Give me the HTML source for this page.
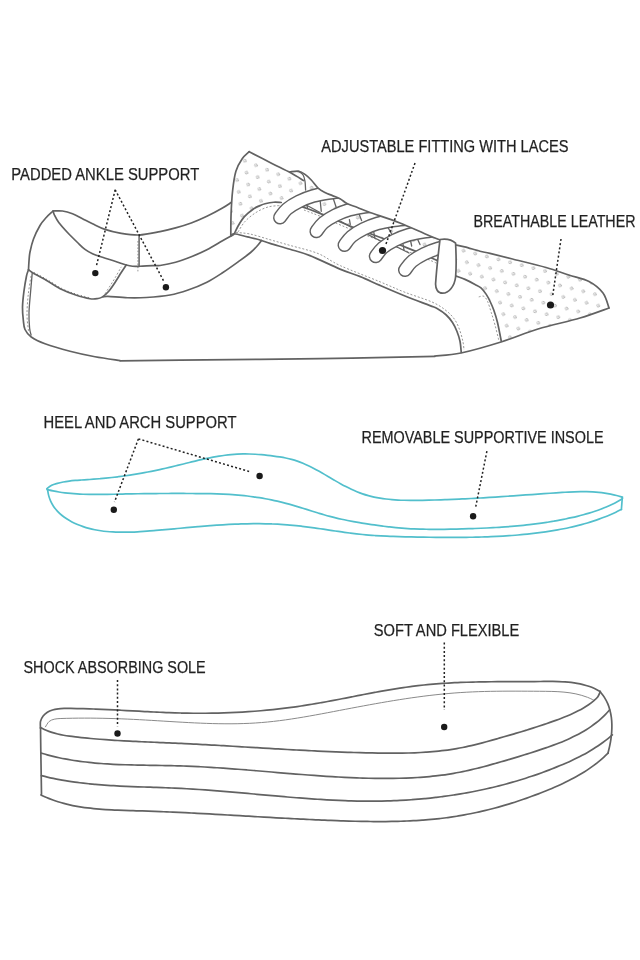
<!DOCTYPE html>
<html><head><meta charset="utf-8"><style>
html,body{margin:0;padding:0;background:#fff;}
body{width:640px;height:960px;overflow:hidden;}
svg{display:block;}
text{font-family:"Liberation Sans",sans-serif;}
</style></head><body>
<svg width="640" height="960" viewBox="0 0 640 960" stroke-linecap="round" stroke-linejoin="round">
<defs><pattern id="pq" patternUnits="userSpaceOnUse" width="12" height="20.784" patternTransform="translate(2 1) rotate(22)"><circle cx="3.0" cy="5.196" r="1.35" fill="none" stroke="#a8a8a8" stroke-width="0.75"/><circle cx="9.0" cy="15.588" r="1.35" fill="none" stroke="#a8a8a8" stroke-width="0.75"/></pattern>
<pattern id="pt" patternUnits="userSpaceOnUse" width="12" height="20.784" patternTransform="translate(3 2) rotate(14)"><circle cx="3.0" cy="5.196" r="1.35" fill="none" stroke="#a8a8a8" stroke-width="0.75"/><circle cx="9.0" cy="15.588" r="1.35" fill="none" stroke="#a8a8a8" stroke-width="0.75"/></pattern>
<clipPath id="cq"><polygon points="249.2,151.7 271.9,163.4 290.6,172.8 298.8,171.2 305.0,174.4 311.2,180.0 318.1,188.1 325.0,192.5 332.5,195.6 340.0,198.8 347.5,203.8 357.5,207.5 370.0,212.5 400.0,223.0 430.0,236.0 451.0,243.0 452.0,268.0 440.0,262.0 400.0,245.0 350.0,226.0 322.5,214.4 302.5,206.9 281.2,202.5 273.8,202.2 265.0,203.8 253.1,210.3 240.6,222.8 233.6,235.3 230.5,233.8 231.0,202.5 232.0,186.9 235.9,171.2 242.2,158.8"/></clipPath>
<clipPath id="ct"><polygon points="451.0,243.0 454.0,245.0 496.0,256.0 558.0,269.0 589.0,281.5 603.0,293.0 609.0,308.0 580.0,318.0 538.0,329.0 501.2,341.0 497.5,322.5 493.8,310.0 490.0,301.2 486.2,294.4 481.2,288.1 475.0,284.4 465.0,279.4 455.0,275.6 452.0,270.0"/></clipPath>
<clipPath id="cl"><polygon points="250.0,320.0 250.0,165.0 290.0,165.0 290.0,171.9 298.8,171.2 305.0,174.4 311.2,180.0 318.1,188.1 325.0,192.5 332.5,195.6 340.0,198.8 347.5,203.8 357.5,207.5 370.0,212.5 400.0,223.0 430.0,236.0 454.0,245.0 452.0,244.0 452.0,320.0"/></clipPath></defs>
<rect x="225" y="145" width="240" height="130" fill="url(#pq)" clip-path="url(#cq)"/>
<rect x="445" y="240" width="170" height="110" fill="url(#pt)" clip-path="url(#ct)"/>
<path d="M31.00 276.00 C30.53 279.17 28.87 288.50 28.20 295.00 C27.53 301.50 26.95 309.00 27.00 315.00 C27.05 321.00 28.25 328.33 28.50 331.00" fill="none" stroke="#8c8c8c" stroke-width="0.9" stroke-dasharray="2 1.8" stroke-linecap="butt"/>
<path d="M34.00 272.40 C36.07 273.53 41.73 276.52 46.40 279.20 C51.07 281.88 57.23 286.08 62.00 288.50 C66.77 290.92 70.50 292.18 75.00 293.70 C79.50 295.22 86.67 296.95 89.00 297.60" fill="none" stroke="#626262" stroke-width="1.0" stroke-dasharray="0.9 2.6" stroke-linecap="butt"/>
<path d="M105.00 293.75 C105.83 292.46 108.33 288.62 110.00 286.00 C111.67 283.38 113.12 281.18 115.00 278.00 C116.88 274.82 120.21 268.75 121.25 266.90" fill="none" stroke="#8c8c8c" stroke-width="0.9" stroke-dasharray="2 1.8" stroke-linecap="butt"/>
<path d="M137.90 241.00 L137.90 272.00" fill="none" stroke="#8c8c8c" stroke-width="0.9" stroke-dasharray="1.6 1.6" stroke-linecap="butt"/>
<path d="M238.00 232.00 C239.17 230.25 242.00 224.75 245.00 221.50 C248.00 218.25 252.17 214.92 256.00 212.50 C259.83 210.08 264.00 208.17 268.00 207.00 C272.00 205.83 278.00 205.75 280.00 205.50" fill="none" stroke="#8c8c8c" stroke-width="0.9" stroke-dasharray="2 1.8" stroke-linecap="butt"/>
<path d="M236.00 232.50 C238.33 232.75 244.33 232.80 250.00 234.00 C255.67 235.20 263.33 237.80 270.00 239.70 C276.67 241.60 282.00 243.10 290.00 245.40 C298.00 247.70 309.67 250.15 318.00 253.50 C326.33 256.85 329.67 260.78 340.00 265.50 C350.33 270.22 369.17 277.33 380.00 281.80 C390.83 286.27 396.33 288.93 405.00 292.30 C413.67 295.67 425.17 298.97 432.00 302.00 C438.83 305.03 442.17 307.50 446.00 310.50 C449.83 313.50 452.67 316.58 455.00 320.00 C457.33 323.42 458.67 327.33 460.00 331.00 C461.33 334.67 462.33 338.83 463.00 342.00 C463.67 345.17 463.83 348.67 464.00 350.00" fill="none" stroke="#8c8c8c" stroke-width="0.9" stroke-dasharray="2 1.8" stroke-linecap="butt"/>
<path d="M304.00 210.00 C307.00 211.17 314.33 213.83 322.00 217.00 C329.67 220.17 337.00 223.75 350.00 229.00 C363.00 234.25 385.00 242.50 400.00 248.50 C415.00 254.50 431.33 260.08 440.00 265.00 C448.67 269.92 450.00 275.83 452.00 278.00" fill="none" stroke="#8c8c8c" stroke-width="0.9" stroke-dasharray="2 1.8" stroke-linecap="butt"/>
<path d="M478.75 296.90 C479.58 296.79 482.29 295.52 483.75 296.25 C485.21 296.98 486.25 298.54 487.50 301.25 C488.75 303.96 490.00 308.54 491.25 312.50 C492.50 316.46 493.75 320.42 495.00 325.00 C496.25 329.58 498.12 337.50 498.75 340.00" fill="none" stroke="#8c8c8c" stroke-width="0.9" stroke-dasharray="2 1.8" stroke-linecap="butt"/>
<path d="M28.50 269.80 C28.17 270.83 27.27 272.35 26.50 276.00 C25.73 279.65 24.57 286.48 23.90 291.70 C23.23 296.92 22.60 302.58 22.50 307.30 C22.40 312.02 22.88 316.30 23.30 320.00 C23.72 323.70 23.68 326.67 25.00 329.50 C26.32 332.33 27.92 334.62 31.25 337.00 C34.58 339.38 38.54 341.38 45.00 343.75 C51.46 346.12 61.67 349.08 70.00 351.25 C78.33 353.42 86.67 355.21 95.00 356.75 C103.33 358.29 115.83 359.88 120.00 360.50" fill="none" stroke="#626262" stroke-width="1.7" />
<path d="M120.00 360.80 C130.00 360.70 146.67 360.57 180.00 360.20 C213.33 359.83 277.50 359.23 320.00 358.60 C362.50 357.97 415.83 356.77 435.00 356.40" fill="none" stroke="#626262" stroke-width="1.7" />
<path d="M435.00 356.00 C439.33 355.50 450.00 355.33 461.00 353.00 C472.00 350.67 488.17 346.00 501.00 342.00 C513.83 338.00 524.83 333.00 538.00 329.00 C551.17 325.00 568.17 321.50 580.00 318.00 C591.83 314.50 604.17 309.67 609.00 308.00" fill="none" stroke="#626262" stroke-width="1.7" />
<path d="M609.00 308.00 C608.00 305.50 606.33 297.42 603.00 293.00 C599.67 288.58 594.71 284.50 589.00 281.50 C583.29 278.50 575.92 277.33 568.75 275.00 C561.58 272.67 555.38 270.17 546.00 267.50 C536.62 264.83 521.83 261.35 512.50 259.00 C503.17 256.65 495.42 254.69 490.00 253.40 C484.58 252.11 484.22 252.33 480.00 251.25 C475.78 250.17 468.87 247.97 464.70 246.90 C460.53 245.83 456.62 245.15 455.00 244.80" fill="none" stroke="#626262" stroke-width="1.7" />
<path d="M32.20 273.40 C31.93 276.45 31.13 285.18 30.60 291.70 C30.07 298.22 29.17 306.45 29.00 312.50 C28.83 318.55 29.25 324.25 29.60 328.00 C29.95 331.75 30.85 333.83 31.10 335.00" fill="none" stroke="#626262" stroke-width="1.3" />
<path d="M53.10 211.00 C51.96 212.08 48.43 215.08 46.25 217.50 C44.07 219.92 42.12 221.92 40.00 225.50 C37.88 229.08 35.17 234.58 33.50 239.00 C31.83 243.42 30.75 248.33 30.00 252.00 C29.25 255.67 29.25 258.03 29.00 261.00 C28.75 263.97 28.58 268.33 28.50 269.80" fill="none" stroke="#626262" stroke-width="1.7" />
<path d="M53.10 211.00 C54.67 211.00 59.27 210.54 62.50 211.00 C65.73 211.46 69.17 212.46 72.50 213.75 C75.83 215.04 79.17 217.08 82.50 218.75 C85.83 220.42 88.75 221.97 92.50 223.75 C96.25 225.53 100.42 227.84 105.00 229.40 C109.58 230.96 114.33 232.17 120.00 233.10 C125.67 234.03 132.33 235.25 139.00 235.00 C145.67 234.75 153.90 232.78 160.00 231.60 C166.10 230.42 170.39 229.33 175.60 227.90 C180.81 226.47 186.03 224.93 191.25 223.00 C196.47 221.07 201.69 218.80 206.90 216.30 C212.11 213.80 218.47 210.30 222.50 208.00 C226.53 205.70 229.67 203.42 231.10 202.50" fill="none" stroke="#626262" stroke-width="1.7" />
<path d="M53.10 211.00 C53.32 211.67 53.46 213.08 54.40 215.00 C55.34 216.92 56.57 219.58 58.75 222.50 C60.93 225.42 64.38 229.17 67.50 232.50 C70.62 235.83 74.58 239.68 77.50 242.50 C80.42 245.32 82.50 247.53 85.00 249.40 C87.50 251.28 89.58 252.43 92.50 253.75 C95.42 255.07 98.75 256.05 102.50 257.30 C106.25 258.55 111.04 259.97 115.00 261.25 C118.96 262.53 123.33 264.17 126.25 265.00 C129.17 265.83 130.21 266.04 132.50 266.25 C134.79 266.46 136.67 266.36 140.00 266.25 C143.33 266.14 149.17 265.73 152.50 265.60 C155.83 265.48 156.15 266.05 160.00 265.50 C163.85 264.95 170.39 263.75 175.60 262.30 C180.81 260.85 186.03 258.88 191.25 256.80 C196.47 254.72 201.69 252.47 206.90 249.80 C212.11 247.13 218.52 243.07 222.50 240.80 C226.48 238.53 229.42 236.97 230.80 236.20" fill="none" stroke="#626262" stroke-width="1.7" />
<path d="M139.10 235.00 L139.10 266.25" fill="none" stroke="#626262" stroke-width="1.5" />
<path d="M28.50 269.80 C29.12 270.23 29.24 270.67 32.20 272.40 C35.16 274.13 41.30 277.33 46.25 280.20 C51.20 283.07 57.11 287.17 61.90 289.60 C66.69 292.03 70.32 293.28 75.00 294.80 C79.68 296.32 86.17 298.13 90.00 298.75 C93.83 299.37 95.92 298.81 98.00 298.50 C100.08 298.19 100.71 298.11 102.50 296.90 C104.29 295.69 106.67 293.65 108.75 291.25 C110.83 288.85 112.92 285.62 115.00 282.50 C117.08 279.38 119.38 275.42 121.25 272.50 C123.12 269.58 125.42 266.25 126.25 265.00" fill="none" stroke="#626262" stroke-width="1.7" />
<path d="M103.00 296.90 C103.83 296.82 103.92 296.26 108.00 296.40 C112.08 296.54 121.12 297.57 127.50 297.75 C133.88 297.93 139.17 297.96 146.25 297.50 C153.33 297.04 163.03 296.25 170.00 295.00 C176.97 293.75 181.95 292.13 188.10 290.00 C194.25 287.87 201.17 285.07 206.90 282.20 C212.63 279.33 217.30 276.18 222.50 272.80 C227.70 269.42 233.42 265.28 238.10 261.90 C242.78 258.52 247.28 255.32 250.60 252.50 C253.92 249.68 256.18 247.00 258.00 245.00 C259.82 243.00 260.92 241.25 261.50 240.50" fill="none" stroke="#626262" stroke-width="1.7" />
<path d="M249.20 151.70 C248.03 152.88 244.42 155.49 242.20 158.75 C239.98 162.01 237.48 166.04 235.90 171.25 C234.32 176.46 233.50 182.97 232.70 190.00 C231.90 197.03 231.42 205.73 231.10 213.40 C230.78 221.07 230.85 232.23 230.80 236.00" fill="none" stroke="#626262" stroke-width="1.7" />
<path d="M249.20 151.70 C252.98 153.65 265.00 159.88 271.90 163.40 C278.80 166.92 285.29 169.93 290.60 172.80 C295.91 175.67 301.56 179.30 303.75 180.60" fill="none" stroke="#626262" stroke-width="1.7" />
<path d="M232.00 235.50 C232.37 235.21 233.18 235.33 234.20 233.75 C235.22 232.17 236.40 228.86 238.10 226.00 C239.80 223.14 241.79 219.47 244.40 216.60 C247.01 213.72 251.15 210.58 253.75 208.75 C256.35 206.92 258.12 206.43 260.00 205.60 C261.88 204.77 262.71 204.31 265.00 203.75 C267.29 203.19 271.04 202.46 273.75 202.25 C276.46 202.04 280.00 202.46 281.25 202.50" fill="none" stroke="#626262" stroke-width="1.7" />
<path d="M230.80 236.00 C231.37 235.62 231.42 233.60 234.20 233.75 C236.98 233.90 243.20 235.86 247.50 236.90 C251.80 237.94 256.25 238.92 260.00 240.00 C263.75 241.08 265.00 241.87 270.00 243.40 C275.00 244.93 283.33 247.17 290.00 249.20 C296.67 251.23 301.67 252.28 310.00 255.60 C318.33 258.92 331.62 265.60 340.00 269.10 C348.38 272.60 353.63 273.88 360.30 276.60 C366.97 279.32 372.55 282.17 380.00 285.40 C387.45 288.63 396.67 292.63 405.00 296.00 C413.33 299.37 424.58 303.48 430.00 305.60 C435.42 307.73 434.79 307.18 437.50 308.75 C440.21 310.32 443.75 312.71 446.25 315.00 C448.75 317.29 450.73 319.79 452.50 322.50 C454.27 325.21 455.65 328.12 456.90 331.25 C458.15 334.38 459.27 337.71 460.00 341.25 C460.73 344.79 461.04 350.62 461.25 352.50" fill="none" stroke="#626262" stroke-width="1.7" />
<path d="M302.50 206.90 C305.83 208.15 314.58 211.22 322.50 214.40 C330.42 217.58 337.08 220.90 350.00 226.00 C362.92 231.10 385.00 239.00 400.00 245.00 C415.00 251.00 431.00 257.05 440.00 262.00 C449.00 266.95 451.67 272.58 454.00 274.70" fill="none" stroke="#626262" stroke-width="1.7" />
<path d="M454.00 274.90 C454.17 275.02 453.17 274.85 455.00 275.60 C456.83 276.35 461.67 277.93 465.00 279.40 C468.33 280.87 472.29 282.95 475.00 284.40 C477.71 285.85 479.38 286.43 481.25 288.10 C483.12 289.77 484.79 292.21 486.25 294.40 C487.71 296.59 488.75 298.65 490.00 301.25 C491.25 303.85 492.50 306.46 493.75 310.00 C495.00 313.54 496.25 317.33 497.50 322.50 C498.75 327.67 500.62 337.92 501.25 341.00" fill="none" stroke="#626262" stroke-width="1.7" />
<path d="M298.75 171.25 C299.48 171.88 302.06 173.33 303.10 175.00 C304.14 176.67 304.58 178.75 305.00 181.25 C305.42 183.75 305.50 188.54 305.60 190.00" fill="none" stroke="#626262" stroke-width="1.3" />
<path d="M306.25 205.00 L320.00 212.50" fill="none" stroke="#626262" stroke-width="1.3" />
<path d="M306.50 203.50 L307.50 208.00" fill="none" stroke="#626262" stroke-width="1.3" />
<path d="M320.00 198.75 L321.25 211.25" fill="none" stroke="#626262" stroke-width="1.3" />
<path d="M332.50 196.25 L336.25 207.50" fill="none" stroke="#626262" stroke-width="1.3" />
<path d="M341.00 221.50 L351.25 227.20" fill="none" stroke="#626262" stroke-width="1.3" />
<path d="M349.40 219.70 L350.30 224.40" fill="none" stroke="#626262" stroke-width="1.3" />
<path d="M356.90 208.40 L361.60 220.60" fill="none" stroke="#626262" stroke-width="1.3" />
<path d="M368.00 234.70 L381.25 241.25" fill="none" stroke="#626262" stroke-width="1.3" />
<path d="M373.75 231.90 L374.70 237.50" fill="none" stroke="#626262" stroke-width="1.3" />
<path d="M383.00 218.75 L391.50 233.75" fill="none" stroke="#626262" stroke-width="1.3" />
<path d="M397.00 247.00 L409.00 253.00" fill="none" stroke="#626262" stroke-width="1.3" />
<path d="M403.00 244.00 L404.00 250.00" fill="none" stroke="#626262" stroke-width="1.3" />
<path d="M409.60 236.25 L411.70 246.00" fill="none" stroke="#626262" stroke-width="1.3" />
<path d="M413.75 231.00 L420.00 244.60" fill="none" stroke="#626262" stroke-width="1.3" />
<path d="M280.00 217.50 C281.17 216.08 283.83 211.67 287.00 209.00 C290.17 206.33 294.67 203.67 299.00 201.50 C303.33 199.33 308.17 197.42 313.00 196.00 C317.83 194.58 323.17 193.75 328.00 193.00 C332.83 192.25 339.67 191.75 342.00 191.50" fill="none" stroke="#626262" stroke-width="14" stroke-linecap="round" clip-path="url(#cl)"/>
<path d="M280.00 217.50 C281.17 216.08 283.83 211.67 287.00 209.00 C290.17 206.33 294.67 203.67 299.00 201.50 C303.33 199.33 308.17 197.42 313.00 196.00 C317.83 194.58 323.17 193.75 328.00 193.00 C332.83 192.25 339.67 191.75 342.00 191.50" fill="none" stroke="#fff" stroke-width="11.2" stroke-linecap="round" clip-path="url(#cl)"/>
<path d="M316.40 231.25 C317.57 229.83 320.23 225.42 323.40 222.75 C326.57 220.08 331.07 217.42 335.40 215.25 C339.73 213.08 344.57 211.17 349.40 209.75 C354.23 208.33 359.57 207.50 364.40 206.75 C369.23 206.00 376.07 205.50 378.40 205.25" fill="none" stroke="#626262" stroke-width="14" stroke-linecap="round" clip-path="url(#cl)"/>
<path d="M316.40 231.25 C317.57 229.83 320.23 225.42 323.40 222.75 C326.57 220.08 331.07 217.42 335.40 215.25 C339.73 213.08 344.57 211.17 349.40 209.75 C354.23 208.33 359.57 207.50 364.40 206.75 C369.23 206.00 376.07 205.50 378.40 205.25" fill="none" stroke="#fff" stroke-width="11.2" stroke-linecap="round" clip-path="url(#cl)"/>
<path d="M344.50 245.00 C345.67 243.58 348.33 239.17 351.50 236.50 C354.67 233.83 359.17 231.17 363.50 229.00 C367.83 226.83 372.67 224.92 377.50 223.50 C382.33 222.08 387.67 221.25 392.50 220.50 C397.33 219.75 404.17 219.25 406.50 219.00" fill="none" stroke="#626262" stroke-width="14" stroke-linecap="round" clip-path="url(#cl)"/>
<path d="M344.50 245.00 C345.67 243.58 348.33 239.17 351.50 236.50 C354.67 233.83 359.17 231.17 363.50 229.00 C367.83 226.83 372.67 224.92 377.50 223.50 C382.33 222.08 387.67 221.25 392.50 220.50 C397.33 219.75 404.17 219.25 406.50 219.00" fill="none" stroke="#fff" stroke-width="11.2" stroke-linecap="round" clip-path="url(#cl)"/>
<path d="M375.75 256.25 C376.92 254.83 379.58 250.42 382.75 247.75 C385.92 245.08 390.42 242.42 394.75 240.25 C399.08 238.08 403.92 236.17 408.75 234.75 C413.58 233.33 418.92 232.50 423.75 231.75 C428.58 231.00 435.42 230.50 437.75 230.25" fill="none" stroke="#626262" stroke-width="14" stroke-linecap="round" clip-path="url(#cl)"/>
<path d="M375.75 256.25 C376.92 254.83 379.58 250.42 382.75 247.75 C385.92 245.08 390.42 242.42 394.75 240.25 C399.08 238.08 403.92 236.17 408.75 234.75 C413.58 233.33 418.92 232.50 423.75 231.75 C428.58 231.00 435.42 230.50 437.75 230.25" fill="none" stroke="#fff" stroke-width="11.2" stroke-linecap="round" clip-path="url(#cl)"/>
<path d="M405.00 270.00 C406.17 268.58 408.83 264.17 412.00 261.50 C415.17 258.83 419.67 256.17 424.00 254.00 C428.33 251.83 433.17 249.92 438.00 248.50 C442.83 247.08 448.17 246.25 453.00 245.50 C457.83 244.75 464.67 244.25 467.00 244.00" fill="none" stroke="#626262" stroke-width="14" stroke-linecap="round" clip-path="url(#cl)"/>
<path d="M405.00 270.00 C406.17 268.58 408.83 264.17 412.00 261.50 C415.17 258.83 419.67 256.17 424.00 254.00 C428.33 251.83 433.17 249.92 438.00 248.50 C442.83 247.08 448.17 246.25 453.00 245.50 C457.83 244.75 464.67 244.25 467.00 244.00" fill="none" stroke="#fff" stroke-width="11.2" stroke-linecap="round" clip-path="url(#cl)"/>
<path d="M290.00 171.90 C291.46 171.79 296.25 170.83 298.75 171.25 C301.25 171.67 302.92 172.94 305.00 174.40 C307.08 175.86 309.07 177.72 311.25 180.00 C313.43 182.28 315.81 186.02 318.10 188.10 C320.39 190.18 322.60 191.25 325.00 192.50 C327.40 193.75 330.00 194.56 332.50 195.60 C335.00 196.64 337.50 197.39 340.00 198.75 C342.50 200.11 344.58 202.29 347.50 203.75 C350.42 205.21 353.75 206.04 357.50 207.50 C361.25 208.96 362.92 209.92 370.00 212.50 C377.08 215.08 390.00 219.08 400.00 223.00 C410.00 226.92 421.00 232.33 430.00 236.00 C439.00 239.67 450.00 243.50 454.00 245.00" fill="none" stroke="#626262" stroke-width="1.7" />
<path d="M440,239.5 C446,238.6 452,239.8 455.6,243.2 C456.2,255 456.4,268 455.6,277 C454.6,286 449,293.2 442.5,293.2 C438,293.2 435.4,289 435.6,283.5 C436.6,268 438.4,253 440,239.5 Z" fill="#fff" stroke="#626262" stroke-width="1.7"/>
<line x1="115.2" y1="189.8" x2="96.5" y2="265.5" stroke="#222" stroke-width="1.5" stroke-dasharray="2 2.2" stroke-linecap="butt"/>
<circle cx="95.3" cy="273.1" r="3.2" fill="#1a1a1a"/>
<line x1="115.2" y1="189.8" x2="163.8" y2="281.2" stroke="#222" stroke-width="1.5" stroke-dasharray="2 2.2" stroke-linecap="butt"/>
<circle cx="165.9" cy="287.2" r="3.2" fill="#1a1a1a"/>
<line x1="415.0" y1="163.0" x2="386.0" y2="244.0" stroke="#222" stroke-width="1.5" stroke-dasharray="2 2.2" stroke-linecap="butt"/>
<circle cx="382.5" cy="250.5" r="3.6" fill="#1a1a1a"/>
<line x1="561.0" y1="239.0" x2="552.5" y2="297.0" stroke="#222" stroke-width="1.5" stroke-dasharray="2 2.2" stroke-linecap="butt"/>
<circle cx="550.5" cy="305.0" r="3.6" fill="#1a1a1a"/>
<path d="M46.91 488.62 C47.71 488.06 49.95 486.15 51.69 485.28 C53.44 484.41 55.45 483.92 57.37 483.37 C59.29 482.83 61.25 482.40 63.22 482.01 C65.19 481.63 67.18 481.34 69.19 481.07 C71.19 480.81 73.22 480.62 75.25 480.44 C77.27 480.26 79.32 480.13 81.36 479.99 C83.40 479.85 85.45 479.75 87.49 479.62 C89.53 479.49 91.58 479.36 93.61 479.21 C95.65 479.06 97.68 478.90 99.71 478.73 C101.74 478.55 103.77 478.36 105.79 478.16 C107.81 477.95 109.83 477.74 111.85 477.51 C113.86 477.28 115.87 477.03 117.88 476.78 C119.89 476.52 121.90 476.25 123.90 475.97 C125.90 475.69 127.90 475.39 129.90 475.08 C131.90 474.78 133.89 474.46 135.89 474.12 C137.88 473.79 139.87 473.45 141.86 473.09 C143.85 472.73 145.83 472.37 147.82 471.99 C149.80 471.61 151.79 471.21 153.77 470.81 C155.75 470.41 157.73 469.99 159.71 469.56 C161.69 469.14 163.66 468.70 165.64 468.25 C167.61 467.80 169.59 467.34 171.56 466.87 C173.54 466.40 175.51 465.92 177.48 465.43 C179.46 464.95 181.43 464.45 183.40 463.97 C185.37 463.48 187.35 462.98 189.32 462.50 C191.29 462.01 193.27 461.53 195.24 461.06 C197.22 460.59 199.20 460.12 201.18 459.68 C203.15 459.23 205.13 458.79 207.12 458.38 C209.10 457.96 211.09 457.57 213.07 457.19 C215.06 456.82 217.05 456.47 219.05 456.15 C221.04 455.83 223.04 455.54 225.04 455.28 C227.04 455.02 229.04 454.79 231.05 454.61 C233.06 454.42 235.08 454.27 237.10 454.16 C239.11 454.06 241.14 453.99 243.16 453.97 C245.19 453.94 247.22 453.96 249.25 454.01 C251.29 454.05 253.32 454.14 255.36 454.26 C257.39 454.37 259.43 454.52 261.46 454.70 C263.50 454.87 265.53 455.08 267.56 455.30 C269.59 455.53 271.62 455.78 273.65 456.05 C275.67 456.32 277.70 456.61 279.71 456.93 C281.72 457.26 283.73 457.60 285.71 458.00 C287.69 458.41 289.66 458.85 291.60 459.38 C293.54 459.90 295.45 460.49 297.34 461.14 C299.23 461.79 301.10 462.52 302.94 463.28 C304.79 464.05 306.62 464.88 308.43 465.74 C310.24 466.60 312.04 467.51 313.83 468.45 C315.62 469.38 317.39 470.36 319.17 471.35 C320.94 472.34 322.71 473.36 324.47 474.39 C326.24 475.41 328.01 476.46 329.78 477.50 C331.55 478.54 333.32 479.59 335.10 480.62 C336.88 481.65 338.66 482.69 340.46 483.69 C342.26 484.69 344.06 485.68 345.87 486.62 C347.69 487.56 349.51 488.49 351.35 489.35 C353.19 490.22 355.04 491.05 356.90 491.81 C358.77 492.57 360.65 493.28 362.55 493.92 C364.45 494.57 366.37 495.14 368.30 495.67 C370.23 496.20 372.17 496.66 374.13 497.08 C376.08 497.50 378.05 497.86 380.03 498.19 C382.01 498.51 384.00 498.79 386.00 499.03 C388.00 499.27 390.01 499.46 392.02 499.63 C394.03 499.80 396.06 499.93 398.08 500.03 C400.11 500.14 402.14 500.21 404.18 500.26 C406.21 500.32 408.25 500.34 410.29 500.36 C412.33 500.37 414.38 500.37 416.42 500.35 C418.46 500.34 420.50 500.31 422.54 500.28 C424.58 500.24 426.62 500.20 428.66 500.16 C430.70 500.11 432.73 500.06 434.76 500.01 C436.80 499.95 438.83 499.89 440.86 499.82 C442.89 499.76 444.92 499.68 446.95 499.61 C448.97 499.53 451.00 499.45 453.03 499.36 C455.05 499.28 457.07 499.19 459.10 499.10 C461.12 499.00 463.14 498.90 465.16 498.80 C467.19 498.70 469.21 498.60 471.23 498.49 C473.25 498.38 475.26 498.27 477.28 498.15 C479.30 498.03 481.32 497.92 483.34 497.80 C485.36 497.67 487.37 497.55 489.39 497.42 C491.41 497.30 493.43 497.17 495.44 497.04 C497.46 496.91 499.48 496.78 501.50 496.64 C503.51 496.51 505.53 496.37 507.55 496.23 C509.57 496.09 511.59 495.96 513.60 495.82 C515.62 495.68 517.64 495.53 519.66 495.39 C521.68 495.25 523.70 495.11 525.72 494.96 C527.75 494.82 529.77 494.68 531.79 494.53 C533.81 494.39 535.84 494.25 537.86 494.10 C539.89 493.96 541.92 493.82 543.94 493.67 C545.97 493.53 548.00 493.39 550.03 493.25 C552.06 493.11 554.09 492.96 556.13 492.83 C558.16 492.69 560.19 492.55 562.23 492.43 C564.26 492.30 566.30 492.18 568.33 492.08 C570.37 491.97 572.40 491.88 574.43 491.82 C576.47 491.75 578.50 491.70 580.53 491.68 C582.55 491.66 584.58 491.66 586.60 491.70 C588.63 491.74 590.65 491.81 592.66 491.92 C594.67 492.03 596.69 492.17 598.69 492.37 C600.70 492.56 602.70 492.80 604.69 493.08 C606.68 493.37 608.67 493.71 610.65 494.10 C612.63 494.50 614.60 494.94 616.57 495.46 C618.53 495.97 621.46 496.90 622.44 497.19" fill="none" stroke="#52bfcc" stroke-width="1.7" />
<path d="M47.09 489.54 C48.08 489.76 51.02 490.48 53.00 490.88 C54.97 491.29 56.96 491.65 58.94 491.97 C60.93 492.29 62.92 492.57 64.92 492.82 C66.92 493.07 68.93 493.28 70.94 493.47 C72.94 493.65 74.96 493.80 76.97 493.93 C78.99 494.06 81.01 494.16 83.03 494.24 C85.06 494.32 87.09 494.37 89.11 494.41 C91.14 494.45 93.18 494.46 95.21 494.47 C97.24 494.47 99.28 494.46 101.31 494.44 C103.35 494.42 105.39 494.39 107.42 494.36 C109.46 494.32 111.50 494.28 113.53 494.23 C115.57 494.19 117.61 494.14 119.64 494.10 C121.68 494.05 123.71 494.01 125.75 493.97 C127.78 493.93 129.81 493.89 131.85 493.86 C133.88 493.82 135.91 493.79 137.94 493.76 C139.97 493.73 142.00 493.70 144.02 493.67 C146.05 493.65 148.08 493.62 150.11 493.60 C152.14 493.58 154.16 493.56 156.19 493.55 C158.22 493.53 160.24 493.52 162.27 493.50 C164.29 493.49 166.32 493.48 168.34 493.48 C170.37 493.47 172.39 493.47 174.42 493.46 C176.44 493.46 178.47 493.46 180.50 493.46 C182.52 493.47 184.55 493.47 186.57 493.48 C188.60 493.49 190.62 493.50 192.65 493.51 C194.68 493.52 196.70 493.54 198.73 493.56 C200.76 493.57 202.78 493.59 204.81 493.62 C206.84 493.64 208.87 493.67 210.90 493.71 C212.92 493.75 214.95 493.80 216.98 493.86 C219.01 493.92 221.04 493.99 223.07 494.08 C225.09 494.17 227.12 494.28 229.15 494.40 C231.17 494.53 233.20 494.67 235.22 494.83 C237.25 494.99 239.27 495.17 241.29 495.37 C243.31 495.56 245.33 495.78 247.35 496.02 C249.36 496.26 251.37 496.51 253.38 496.79 C255.39 497.07 257.40 497.37 259.40 497.69 C261.40 498.01 263.40 498.35 265.40 498.72 C267.39 499.08 269.38 499.47 271.36 499.88 C273.35 500.29 275.33 500.72 277.30 501.18 C279.27 501.64 281.24 502.12 283.20 502.62 C285.16 503.12 287.12 503.65 289.07 504.19 C291.02 504.73 292.97 505.29 294.91 505.86 C296.85 506.43 298.79 507.02 300.73 507.61 C302.67 508.20 304.60 508.81 306.54 509.41 C308.47 510.01 310.40 510.62 312.34 511.22 C314.27 511.82 316.21 512.42 318.14 513.01 C320.08 513.59 322.02 514.18 323.97 514.73 C325.91 515.29 327.86 515.84 329.81 516.36 C331.77 516.88 333.73 517.38 335.70 517.85 C337.66 518.33 339.64 518.78 341.61 519.21 C343.59 519.65 345.57 520.06 347.56 520.46 C349.55 520.85 351.54 521.23 353.53 521.60 C355.53 521.96 357.53 522.31 359.53 522.65 C361.53 522.99 363.54 523.31 365.54 523.63 C367.55 523.95 369.56 524.25 371.57 524.55 C373.58 524.84 375.60 525.13 377.61 525.41 C379.62 525.69 381.64 525.96 383.66 526.22 C385.67 526.47 387.69 526.72 389.71 526.95 C391.73 527.18 393.75 527.39 395.77 527.59 C397.79 527.78 399.81 527.96 401.83 528.12 C403.85 528.28 405.87 528.42 407.89 528.54 C409.92 528.67 411.94 528.78 413.96 528.87 C415.99 528.96 418.01 529.04 420.03 529.11 C422.06 529.17 424.08 529.22 426.11 529.26 C428.13 529.30 430.16 529.32 432.18 529.34 C434.21 529.35 436.23 529.36 438.26 529.35 C440.28 529.35 442.31 529.33 444.34 529.31 C446.36 529.29 448.39 529.25 450.42 529.22 C452.45 529.18 454.47 529.13 456.50 529.08 C458.53 529.03 460.56 528.97 462.59 528.91 C464.62 528.86 466.65 528.79 468.67 528.72 C470.70 528.66 472.73 528.58 474.76 528.51 C476.79 528.43 478.82 528.35 480.85 528.26 C482.88 528.18 484.91 528.08 486.94 527.98 C488.96 527.88 490.99 527.78 493.02 527.67 C495.05 527.55 497.07 527.43 499.10 527.30 C501.13 527.18 503.15 527.04 505.18 526.89 C507.20 526.75 509.22 526.59 511.25 526.43 C513.27 526.26 515.29 526.09 517.31 525.90 C519.33 525.72 521.35 525.52 523.37 525.32 C525.38 525.11 527.40 524.89 529.41 524.66 C531.43 524.43 533.44 524.18 535.45 523.93 C537.46 523.67 539.47 523.40 541.48 523.12 C543.49 522.83 545.49 522.53 547.49 522.22 C549.50 521.91 551.50 521.58 553.50 521.24 C555.49 520.89 557.49 520.54 559.48 520.16 C561.48 519.78 563.47 519.39 565.46 518.98 C567.44 518.57 569.43 518.15 571.41 517.70 C573.40 517.26 575.38 516.80 577.35 516.31 C579.32 515.83 581.30 515.32 583.26 514.79 C585.22 514.26 587.17 513.70 589.11 513.11 C591.06 512.53 592.99 511.91 594.91 511.26 C596.83 510.61 598.74 509.94 600.63 509.22 C602.52 508.50 604.40 507.75 606.26 506.95 C608.12 506.16 609.97 505.33 611.79 504.45 C613.61 503.57 615.41 502.65 617.19 501.68 C618.97 500.71 621.58 499.14 622.46 498.63" fill="none" stroke="#52bfcc" stroke-width="1.7" />
<path d="M47.42 488.73 C47.61 489.80 48.03 493.10 48.56 495.16 C49.10 497.22 49.80 499.21 50.64 501.09 C51.48 502.97 52.48 504.75 53.60 506.43 C54.72 508.10 55.99 509.67 57.34 511.14 C58.70 512.61 60.19 513.98 61.74 515.26 C63.29 516.54 64.95 517.72 66.65 518.82 C68.35 519.93 70.14 520.94 71.95 521.88 C73.76 522.82 75.63 523.67 77.50 524.46 C79.37 525.24 81.27 525.95 83.19 526.60 C85.10 527.25 87.03 527.82 88.97 528.34 C90.91 528.86 92.87 529.32 94.84 529.72 C96.81 530.12 98.80 530.46 100.79 530.75 C102.79 531.05 104.79 531.29 106.81 531.49 C108.82 531.69 110.85 531.84 112.88 531.95 C114.91 532.07 116.95 532.14 118.99 532.18 C121.04 532.22 123.09 532.23 125.14 532.21 C127.19 532.19 129.25 532.13 131.31 532.06 C133.37 531.99 135.43 531.89 137.49 531.78 C139.55 531.67 141.61 531.53 143.67 531.39 C145.72 531.25 147.78 531.09 149.83 530.93 C151.89 530.77 153.93 530.60 155.98 530.43 C158.02 530.26 160.06 530.08 162.10 529.90 C164.14 529.73 166.17 529.54 168.20 529.36 C170.23 529.18 172.26 528.99 174.29 528.80 C176.31 528.62 178.34 528.43 180.36 528.25 C182.38 528.06 184.40 527.87 186.42 527.69 C188.44 527.50 190.46 527.32 192.48 527.14 C194.49 526.96 196.51 526.78 198.53 526.61 C200.54 526.44 202.56 526.27 204.58 526.10 C206.59 525.94 208.61 525.78 210.63 525.63 C212.65 525.48 214.67 525.33 216.69 525.19 C218.71 525.05 220.73 524.92 222.76 524.80 C224.78 524.67 226.81 524.56 228.84 524.45 C230.87 524.35 232.90 524.25 234.93 524.17 C236.97 524.08 239.00 524.01 241.04 523.95 C243.07 523.88 245.11 523.83 247.15 523.79 C249.18 523.75 251.22 523.73 253.26 523.71 C255.30 523.70 257.34 523.70 259.38 523.71 C261.42 523.72 263.46 523.75 265.50 523.79 C267.54 523.83 269.58 523.89 271.61 523.96 C273.65 524.03 275.69 524.12 277.72 524.22 C279.76 524.33 281.79 524.45 283.83 524.59 C285.86 524.73 287.89 524.88 289.92 525.06 C291.95 525.23 293.98 525.42 296.00 525.63 C298.03 525.84 300.05 526.07 302.07 526.31 C304.10 526.55 306.12 526.81 308.13 527.07 C310.15 527.33 312.17 527.61 314.19 527.89 C316.20 528.18 318.22 528.47 320.23 528.76 C322.25 529.05 324.26 529.36 326.28 529.65 C328.29 529.95 330.31 530.26 332.32 530.55 C334.33 530.85 336.35 531.15 338.36 531.44 C340.38 531.73 342.39 532.02 344.41 532.29 C346.42 532.57 348.44 532.84 350.46 533.10 C352.48 533.36 354.50 533.60 356.52 533.83 C358.54 534.06 360.56 534.28 362.58 534.48 C364.61 534.68 366.63 534.86 368.66 535.03 C370.69 535.20 372.71 535.36 374.74 535.50 C376.77 535.64 378.80 535.77 380.84 535.89 C382.87 536.01 384.90 536.11 386.93 536.21 C388.97 536.30 391.00 536.39 393.04 536.47 C395.07 536.55 397.11 536.61 399.15 536.68 C401.18 536.74 403.22 536.79 405.26 536.84 C407.30 536.89 409.34 536.93 411.37 536.97 C413.41 537.01 415.45 537.05 417.49 537.08 C419.53 537.11 421.57 537.14 423.61 537.17 C425.65 537.20 427.69 537.23 429.73 537.25 C431.76 537.28 433.80 537.30 435.84 537.32 C437.88 537.34 439.92 537.36 441.96 537.37 C444.00 537.38 446.03 537.39 448.07 537.40 C450.11 537.40 452.15 537.41 454.19 537.40 C456.22 537.40 458.26 537.39 460.30 537.38 C462.33 537.36 464.37 537.35 466.41 537.32 C468.44 537.29 470.48 537.26 472.51 537.23 C474.55 537.19 476.58 537.14 478.62 537.09 C480.65 537.04 482.69 536.98 484.72 536.91 C486.75 536.85 488.79 536.77 490.82 536.69 C492.85 536.60 494.88 536.51 496.92 536.41 C498.95 536.31 500.98 536.20 503.01 536.08 C505.04 535.95 507.07 535.82 509.10 535.68 C511.13 535.54 513.15 535.39 515.18 535.23 C517.21 535.06 519.23 534.89 521.26 534.70 C523.29 534.52 525.31 534.32 527.34 534.11 C529.36 533.90 531.38 533.68 533.41 533.44 C535.43 533.20 537.45 532.95 539.47 532.69 C541.49 532.43 543.51 532.15 545.53 531.86 C547.55 531.57 549.56 531.26 551.58 530.93 C553.59 530.61 555.60 530.27 557.61 529.91 C559.61 529.55 561.61 529.17 563.61 528.77 C565.61 528.37 567.60 527.95 569.59 527.51 C571.58 527.07 573.56 526.61 575.54 526.13 C577.52 525.65 579.49 525.14 581.45 524.61 C583.42 524.08 585.37 523.53 587.32 522.95 C589.27 522.37 591.21 521.76 593.15 521.13 C595.08 520.49 597.00 519.84 598.92 519.15 C600.83 518.46 602.74 517.74 604.63 517.00 C606.53 516.25 608.42 515.47 610.29 514.67 C612.16 513.86 614.03 513.02 615.88 512.15 C617.73 511.27 620.47 509.88 621.39 509.43" fill="none" stroke="#52bfcc" stroke-width="1.7" />
<path d="M622.30 497.50 L621.40 509.50" fill="none" stroke="#52bfcc" stroke-width="1.7" />
<line x1="138.4" y1="438.9" x2="114.5" y2="502.0" stroke="#222" stroke-width="1.5" stroke-dasharray="2 2.2" stroke-linecap="butt"/>
<circle cx="113.8" cy="509.8" r="3.2" fill="#1a1a1a"/>
<line x1="138.4" y1="438.9" x2="250.6" y2="471.9" stroke="#222" stroke-width="1.5" stroke-dasharray="2 2.2" stroke-linecap="butt"/>
<circle cx="259.6" cy="476.0" r="3.2" fill="#1a1a1a"/>
<line x1="486.9" y1="451.2" x2="475.5" y2="508.0" stroke="#222" stroke-width="1.5" stroke-dasharray="2 2.2" stroke-linecap="butt"/>
<circle cx="473.1" cy="516.2" r="3.2" fill="#1a1a1a"/>
<path d="M40.45 728.24 C40.46 727.08 40.09 723.35 40.54 721.30 C40.98 719.26 42.00 717.49 43.14 715.98 C44.28 714.47 45.81 713.24 47.38 712.24 C48.94 711.24 50.71 710.54 52.52 709.98 C54.34 709.41 56.30 709.10 58.29 708.84 C60.27 708.59 62.36 708.53 64.43 708.46 C66.51 708.40 68.64 708.44 70.73 708.46 C72.83 708.47 74.93 708.50 77.03 708.54 C79.12 708.58 81.21 708.62 83.29 708.67 C85.37 708.73 87.45 708.79 89.52 708.85 C91.60 708.92 93.66 708.99 95.73 709.07 C97.80 709.15 99.86 709.23 101.91 709.32 C103.97 709.41 106.03 709.50 108.08 709.60 C110.13 709.70 112.18 709.80 114.22 709.90 C116.27 710.00 118.31 710.11 120.35 710.22 C122.39 710.32 124.43 710.43 126.46 710.54 C128.50 710.65 130.53 710.77 132.56 710.88 C134.59 710.99 136.62 711.10 138.65 711.21 C140.68 711.32 142.71 711.43 144.74 711.53 C146.76 711.64 148.79 711.74 150.81 711.84 C152.84 711.95 154.86 712.04 156.89 712.14 C158.91 712.23 160.94 712.32 162.96 712.41 C164.99 712.50 167.01 712.58 169.04 712.65 C171.06 712.73 173.09 712.80 175.12 712.86 C177.14 712.92 179.17 712.98 181.20 713.03 C183.23 713.08 185.26 713.12 187.30 713.15 C189.33 713.18 191.36 713.21 193.40 713.23 C195.43 713.24 197.46 713.25 199.50 713.25 C201.54 713.26 203.57 713.25 205.61 713.24 C207.65 713.22 209.69 713.20 211.73 713.17 C213.76 713.14 215.80 713.10 217.84 713.05 C219.88 713.00 221.92 712.95 223.96 712.88 C226.01 712.82 228.05 712.74 230.09 712.66 C232.13 712.58 234.17 712.49 236.21 712.39 C238.25 712.29 240.29 712.18 242.33 712.06 C244.37 711.95 246.41 711.82 248.45 711.68 C250.49 711.55 252.53 711.40 254.57 711.25 C256.61 711.09 258.65 710.93 260.69 710.76 C262.72 710.58 264.76 710.40 266.80 710.21 C268.83 710.01 270.87 709.81 272.91 709.60 C274.94 709.39 276.97 709.17 279.01 708.93 C281.04 708.70 283.07 708.46 285.10 708.21 C287.13 707.96 289.16 707.69 291.19 707.42 C293.22 707.15 295.24 706.87 297.27 706.57 C299.29 706.28 301.32 705.98 303.34 705.66 C305.36 705.35 307.38 705.02 309.40 704.69 C311.42 704.36 313.43 704.02 315.45 703.67 C317.47 703.32 319.48 702.97 321.49 702.61 C323.51 702.25 325.52 701.88 327.53 701.50 C329.54 701.13 331.56 700.75 333.57 700.37 C335.58 699.99 337.59 699.61 339.59 699.22 C341.60 698.83 343.61 698.44 345.62 698.05 C347.63 697.66 349.64 697.27 351.64 696.88 C353.65 696.49 355.66 696.09 357.66 695.70 C359.67 695.31 361.68 694.93 363.69 694.54 C365.69 694.15 367.70 693.77 369.71 693.39 C371.71 693.01 373.72 692.63 375.73 692.26 C377.74 691.89 379.74 691.53 381.75 691.17 C383.76 690.81 385.77 690.45 387.78 690.11 C389.79 689.76 391.80 689.42 393.81 689.10 C395.83 688.77 397.84 688.45 399.85 688.14 C401.87 687.83 403.88 687.53 405.90 687.24 C407.91 686.95 409.93 686.67 411.95 686.41 C413.96 686.14 415.98 685.89 418.01 685.65 C420.03 685.41 422.05 685.19 424.07 684.97 C426.10 684.76 428.12 684.57 430.15 684.38 C432.18 684.20 434.21 684.03 436.24 683.87 C438.27 683.71 440.30 683.56 442.33 683.42 C444.36 683.28 446.40 683.16 448.43 683.04 C450.47 682.92 452.50 682.82 454.54 682.72 C456.58 682.62 458.61 682.54 460.65 682.45 C462.69 682.37 464.73 682.30 466.77 682.24 C468.82 682.17 470.86 682.12 472.90 682.07 C474.94 682.01 476.99 681.97 479.03 681.93 C481.08 681.89 483.12 681.86 485.17 681.83 C487.21 681.80 489.26 681.78 491.31 681.75 C493.35 681.73 495.40 681.72 497.45 681.70 C499.50 681.69 501.55 681.68 503.60 681.67 C505.65 681.66 507.70 681.65 509.75 681.64 C511.80 681.63 513.85 681.63 515.90 681.62 C517.95 681.62 520.00 681.61 522.05 681.60 C524.10 681.60 526.15 681.59 528.21 681.58 C530.26 681.57 532.31 681.56 534.36 681.54 C536.41 681.53 538.46 681.51 540.52 681.49 C542.57 681.48 544.62 681.45 546.67 681.44 C548.72 681.43 550.77 681.41 552.81 681.43 C554.85 681.45 556.89 681.48 558.93 681.55 C560.96 681.61 562.99 681.70 565.01 681.85 C567.03 681.99 569.04 682.17 571.05 682.41 C573.05 682.65 575.04 682.93 577.03 683.29 C579.01 683.65 580.98 684.06 582.94 684.56 C584.90 685.07 586.85 685.63 588.77 686.30 C590.70 686.97 592.62 687.71 594.52 688.56 C596.42 689.42 599.22 690.95 600.16 691.43" fill="none" stroke="#626262" stroke-width="1.7" />
<path d="M41.50 794.30 C41.45 791.08 41.32 782.38 41.20 775.00 C41.08 767.62 40.90 756.67 40.80 750.00 C40.70 743.33 40.63 738.67 40.60 735.00 C40.57 731.33 40.60 729.17 40.60 728.00" fill="none" stroke="#626262" stroke-width="1.7" />
<path d="M599.91 691.48 C600.66 692.46 603.09 695.32 604.39 697.36 C605.69 699.40 606.78 701.53 607.72 703.71 C608.65 705.88 609.39 708.14 610.00 710.43 C610.60 712.71 611.04 715.06 611.35 717.42 C611.66 719.78 611.82 722.18 611.88 724.58 C611.94 726.99 611.86 729.42 611.70 731.83 C611.54 734.24 611.26 736.66 610.92 739.05 C610.58 741.44 610.14 743.82 609.65 746.15 C609.16 748.48 608.28 751.88 608.01 753.03" fill="none" stroke="#626262" stroke-width="1.7" />
<path d="M45.49 726.81 C46.09 725.93 47.64 722.81 49.09 721.54 C50.54 720.28 52.35 719.71 54.19 719.21 C56.03 718.71 58.11 718.68 60.12 718.54 C62.13 718.39 64.22 718.40 66.26 718.35 C68.31 718.29 70.35 718.25 72.39 718.22 C74.43 718.18 76.47 718.16 78.51 718.14 C80.55 718.12 82.58 718.11 84.62 718.11 C86.65 718.11 88.68 718.11 90.72 718.12 C92.75 718.14 94.78 718.16 96.81 718.19 C98.84 718.21 100.87 718.25 102.90 718.29 C104.93 718.33 106.96 718.38 108.98 718.44 C111.01 718.49 113.04 718.55 115.07 718.62 C117.09 718.69 119.12 718.76 121.15 718.84 C123.18 718.92 125.21 719.00 127.23 719.09 C129.26 719.18 131.29 719.27 133.32 719.37 C135.35 719.47 137.38 719.58 139.41 719.68 C141.44 719.79 143.48 719.91 145.51 720.02 C147.54 720.14 149.57 720.26 151.61 720.38 C153.64 720.50 155.68 720.63 157.72 720.75 C159.75 720.88 161.79 721.00 163.82 721.13 C165.86 721.25 167.90 721.38 169.94 721.51 C171.97 721.63 174.01 721.75 176.05 721.88 C178.09 722.00 180.13 722.12 182.17 722.23 C184.21 722.35 186.24 722.46 188.28 722.57 C190.32 722.68 192.36 722.78 194.40 722.88 C196.44 722.98 198.48 723.07 200.51 723.15 C202.55 723.24 204.59 723.32 206.63 723.39 C208.66 723.46 210.70 723.52 212.74 723.58 C214.77 723.63 216.81 723.68 218.84 723.71 C220.88 723.74 222.91 723.77 224.94 723.78 C226.98 723.79 229.01 723.80 231.04 723.79 C233.07 723.78 235.10 723.75 237.13 723.72 C239.16 723.68 241.19 723.63 243.22 723.56 C245.24 723.50 247.27 723.42 249.29 723.33 C251.32 723.23 253.34 723.12 255.36 722.99 C257.38 722.86 259.40 722.72 261.42 722.56 C263.44 722.39 265.46 722.21 267.47 722.02 C269.49 721.82 271.50 721.61 273.51 721.38 C275.53 721.16 277.54 720.91 279.55 720.66 C281.56 720.40 283.57 720.13 285.57 719.86 C287.58 719.58 289.59 719.28 291.59 718.98 C293.60 718.68 295.61 718.36 297.61 718.04 C299.61 717.72 301.62 717.39 303.62 717.05 C305.62 716.71 307.63 716.36 309.63 716.01 C311.63 715.65 313.63 715.29 315.63 714.93 C317.63 714.56 319.63 714.19 321.63 713.82 C323.63 713.45 325.63 713.07 327.63 712.69 C329.63 712.31 331.63 711.93 333.63 711.55 C335.63 711.16 337.63 710.78 339.63 710.40 C341.63 710.01 343.63 709.63 345.63 709.25 C347.63 708.87 349.63 708.49 351.63 708.11 C353.63 707.73 355.64 707.35 357.64 706.98 C359.64 706.60 361.64 706.23 363.64 705.86 C365.64 705.49 367.65 705.12 369.65 704.76 C371.65 704.39 373.65 704.03 375.66 703.68 C377.66 703.32 379.67 702.97 381.67 702.62 C383.68 702.27 385.68 701.93 387.69 701.59 C389.69 701.25 391.70 700.92 393.70 700.59 C395.71 700.27 397.72 699.94 399.73 699.63 C401.73 699.31 403.74 699.00 405.75 698.70 C407.76 698.40 409.77 698.10 411.78 697.81 C413.79 697.52 415.80 697.24 417.82 696.97 C419.83 696.70 421.84 696.43 423.86 696.17 C425.87 695.92 427.88 695.67 429.90 695.43 C431.92 695.19 433.93 694.96 435.95 694.74 C437.97 694.52 439.98 694.31 442.00 694.11 C444.02 693.91 446.04 693.72 448.06 693.54 C450.09 693.36 452.11 693.19 454.13 693.03 C456.15 692.87 458.18 692.72 460.20 692.59 C462.23 692.46 464.26 692.33 466.28 692.22 C468.31 692.11 470.34 692.01 472.37 691.92 C474.40 691.83 476.43 691.75 478.46 691.67 C480.49 691.60 482.52 691.54 484.56 691.48 C486.59 691.43 488.62 691.38 490.66 691.34 C492.69 691.30 494.73 691.27 496.76 691.24 C498.80 691.22 500.84 691.20 502.87 691.18 C504.91 691.17 506.95 691.16 508.99 691.15 C511.03 691.15 513.06 691.15 515.10 691.15 C517.14 691.15 519.18 691.15 521.22 691.16 C523.26 691.17 525.30 691.18 527.34 691.19 C529.38 691.20 531.42 691.22 533.47 691.23 C535.51 691.24 537.55 691.26 539.59 691.27 C541.63 691.29 543.67 691.29 545.71 691.32 C547.75 691.35 549.79 691.37 551.82 691.43 C553.86 691.49 555.89 691.56 557.91 691.67 C559.94 691.79 561.96 691.93 563.97 692.12 C565.97 692.32 567.98 692.54 569.97 692.84 C571.96 693.14 573.94 693.48 575.91 693.90 C577.88 694.33 579.84 694.81 581.78 695.38 C583.72 695.95 585.65 696.59 587.57 697.34 C589.48 698.09 592.30 699.44 593.25 699.86" fill="none" stroke="#8a8a8a" stroke-width="1.0" />
<path d="M40.63 727.39 C41.55 727.86 44.30 729.37 46.18 730.19 C48.05 731.02 49.95 731.73 51.87 732.37 C53.78 733.00 55.72 733.53 57.67 734.01 C59.62 734.49 61.59 734.89 63.56 735.25 C65.54 735.61 67.53 735.91 69.52 736.19 C71.51 736.47 73.51 736.70 75.51 736.93 C77.51 737.17 79.52 737.38 81.52 737.59 C83.53 737.80 85.53 738.00 87.54 738.19 C89.55 738.38 91.55 738.56 93.56 738.73 C95.57 738.91 97.58 739.07 99.59 739.23 C101.60 739.39 103.61 739.54 105.63 739.69 C107.64 739.83 109.65 739.97 111.67 740.10 C113.68 740.23 115.70 740.36 117.71 740.48 C119.73 740.60 121.75 740.72 123.76 740.83 C125.78 740.94 127.80 741.05 129.82 741.15 C131.84 741.26 133.85 741.36 135.87 741.46 C137.89 741.55 139.91 741.65 141.93 741.74 C143.95 741.83 145.97 741.92 147.99 742.01 C150.01 742.10 152.04 742.19 154.06 742.27 C156.08 742.36 158.10 742.44 160.12 742.53 C162.14 742.62 164.16 742.70 166.18 742.79 C168.20 742.87 170.23 742.96 172.25 743.05 C174.27 743.14 176.29 743.23 178.31 743.32 C180.33 743.41 182.35 743.51 184.37 743.60 C186.39 743.70 188.41 743.80 190.43 743.90 C192.45 744.00 194.47 744.11 196.49 744.21 C198.51 744.32 200.53 744.42 202.55 744.53 C204.57 744.64 206.59 744.75 208.61 744.86 C210.63 744.97 212.64 745.09 214.66 745.20 C216.68 745.31 218.70 745.43 220.72 745.55 C222.74 745.66 224.75 745.78 226.77 745.90 C228.79 746.02 230.81 746.14 232.83 746.26 C234.84 746.38 236.86 746.50 238.88 746.62 C240.90 746.74 242.91 746.86 244.93 746.98 C246.95 747.10 248.97 747.22 250.98 747.34 C253.00 747.47 255.02 747.59 257.04 747.71 C259.05 747.83 261.07 747.95 263.09 748.07 C265.10 748.19 267.12 748.31 269.14 748.43 C271.16 748.55 273.17 748.67 275.19 748.79 C277.21 748.90 279.22 749.02 281.24 749.14 C283.26 749.25 285.28 749.37 287.29 749.48 C289.31 749.60 291.33 749.71 293.34 749.82 C295.36 749.93 297.38 750.04 299.40 750.15 C301.41 750.26 303.43 750.36 305.45 750.47 C307.47 750.57 309.48 750.67 311.50 750.77 C313.52 750.87 315.54 750.97 317.56 751.07 C319.57 751.16 321.59 751.26 323.61 751.35 C325.63 751.44 327.65 751.53 329.67 751.61 C331.68 751.70 333.70 751.78 335.72 751.86 C337.74 751.94 339.76 752.02 341.78 752.09 C343.80 752.17 345.82 752.24 347.84 752.31 C349.86 752.37 351.87 752.44 353.89 752.50 C355.91 752.56 357.93 752.62 359.96 752.67 C361.98 752.72 364.00 752.77 366.02 752.82 C368.04 752.86 370.06 752.91 372.08 752.94 C374.10 752.98 376.12 753.02 378.14 753.04 C380.17 753.07 382.19 753.10 384.21 753.12 C386.23 753.14 388.25 753.15 390.28 753.16 C392.30 753.16 394.32 753.17 396.34 753.16 C398.36 753.15 400.39 753.13 402.41 753.10 C404.43 753.07 406.45 753.03 408.47 752.98 C410.49 752.93 412.51 752.87 414.52 752.79 C416.54 752.71 418.56 752.62 420.57 752.52 C422.59 752.41 424.60 752.29 426.61 752.15 C428.63 752.01 430.64 751.86 432.65 751.68 C434.66 751.51 436.67 751.32 438.67 751.10 C440.68 750.89 442.68 750.66 444.68 750.40 C446.68 750.15 448.68 749.87 450.68 749.57 C452.68 749.27 454.67 748.95 456.67 748.60 C458.66 748.25 460.65 747.87 462.63 747.47 C464.62 747.07 466.61 746.65 468.59 746.20 C470.57 745.76 472.55 745.29 474.52 744.81 C476.50 744.33 478.47 743.83 480.44 743.32 C482.41 742.81 484.37 742.28 486.34 741.75 C488.30 741.21 490.26 740.67 492.21 740.12 C494.17 739.57 496.12 739.02 498.07 738.46 C500.02 737.91 501.97 737.35 503.91 736.80 C505.85 736.24 507.79 735.68 509.73 735.12 C511.67 734.56 513.60 734.00 515.53 733.43 C517.46 732.86 519.39 732.29 521.31 731.71 C523.24 731.13 525.16 730.55 527.08 729.96 C529.00 729.37 530.92 728.77 532.83 728.16 C534.75 727.55 536.66 726.94 538.57 726.31 C540.49 725.68 542.40 725.05 544.30 724.40 C546.21 723.75 548.12 723.09 550.02 722.42 C551.93 721.74 553.83 721.06 555.74 720.36 C557.64 719.65 559.54 718.94 561.44 718.20 C563.34 717.47 565.24 716.72 567.12 715.94 C569.00 715.16 570.88 714.36 572.73 713.51 C574.57 712.66 576.41 711.79 578.21 710.86 C580.00 709.93 581.78 708.96 583.51 707.93 C585.23 706.90 586.93 705.83 588.57 704.68 C590.22 703.53 591.84 702.34 593.36 701.05 C594.88 699.75 596.54 698.49 597.70 696.92 C598.86 695.35 599.88 692.52 600.31 691.63" fill="none" stroke="#626262" stroke-width="1.7" />
<path d="M41.35 753.12 C42.33 753.40 45.28 754.28 47.25 754.82 C49.21 755.36 51.19 755.87 53.16 756.35 C55.14 756.83 57.12 757.29 59.10 757.72 C61.08 758.14 63.07 758.55 65.06 758.93 C67.04 759.31 69.04 759.66 71.03 759.99 C73.02 760.33 75.02 760.64 77.02 760.93 C79.02 761.22 81.02 761.49 83.03 761.74 C85.03 761.99 87.04 762.22 89.05 762.43 C91.06 762.65 93.07 762.84 95.08 763.03 C97.10 763.21 99.11 763.37 101.13 763.52 C103.15 763.68 105.17 763.81 107.19 763.94 C109.21 764.06 111.23 764.17 113.26 764.28 C115.28 764.38 117.31 764.47 119.34 764.55 C121.36 764.63 123.39 764.70 125.42 764.77 C127.45 764.83 129.48 764.89 131.51 764.94 C133.54 765.00 135.58 765.04 137.61 765.08 C139.64 765.13 141.68 765.16 143.71 765.20 C145.75 765.23 147.78 765.26 149.82 765.30 C151.85 765.33 153.89 765.36 155.92 765.39 C157.96 765.42 160.00 765.45 162.03 765.49 C164.07 765.52 166.10 765.56 168.14 765.60 C170.17 765.64 172.21 765.69 174.24 765.74 C176.28 765.79 178.31 765.84 180.35 765.91 C182.38 765.97 184.42 766.04 186.45 766.12 C188.48 766.20 190.51 766.28 192.55 766.37 C194.58 766.46 196.61 766.56 198.64 766.66 C200.67 766.77 202.70 766.87 204.73 766.99 C206.76 767.10 208.79 767.22 210.82 767.34 C212.85 767.47 214.87 767.60 216.90 767.73 C218.93 767.86 220.96 768.00 222.98 768.14 C225.01 768.28 227.04 768.43 229.06 768.57 C231.09 768.72 233.12 768.87 235.14 769.03 C237.17 769.18 239.19 769.34 241.22 769.50 C243.25 769.66 245.27 769.82 247.29 769.99 C249.32 770.15 251.34 770.32 253.37 770.48 C255.39 770.65 257.42 770.82 259.44 770.99 C261.47 771.16 263.49 771.33 265.51 771.50 C267.54 771.67 269.56 771.84 271.58 772.01 C273.61 772.19 275.63 772.36 277.65 772.53 C279.68 772.70 281.70 772.87 283.73 773.04 C285.75 773.21 287.77 773.38 289.80 773.54 C291.82 773.71 293.84 773.87 295.87 774.04 C297.89 774.20 299.91 774.36 301.94 774.52 C303.96 774.68 305.98 774.84 308.01 774.99 C310.03 775.14 312.05 775.30 314.08 775.44 C316.10 775.59 318.13 775.73 320.15 775.87 C322.18 776.01 324.20 776.15 326.23 776.28 C328.25 776.41 330.27 776.54 332.30 776.66 C334.33 776.78 336.35 776.90 338.38 777.01 C340.40 777.13 342.43 777.23 344.46 777.33 C346.48 777.44 348.51 777.53 350.54 777.62 C352.56 777.71 354.59 777.79 356.62 777.87 C358.65 777.94 360.67 778.01 362.70 778.07 C364.73 778.13 366.76 778.19 368.79 778.24 C370.82 778.28 372.85 778.32 374.88 778.35 C376.91 778.38 378.94 778.40 380.97 778.42 C383.01 778.43 385.04 778.44 387.07 778.43 C389.10 778.43 391.14 778.41 393.17 778.39 C395.20 778.36 397.23 778.32 399.26 778.27 C401.29 778.23 403.33 778.17 405.36 778.09 C407.39 778.02 409.42 777.93 411.44 777.83 C413.47 777.73 415.50 777.62 417.52 777.49 C419.55 777.36 421.57 777.22 423.60 777.06 C425.62 776.90 427.64 776.72 429.66 776.53 C431.68 776.34 433.69 776.13 435.71 775.90 C437.72 775.67 439.73 775.43 441.74 775.17 C443.75 774.90 445.75 774.62 447.76 774.31 C449.76 774.01 451.76 773.69 453.75 773.34 C455.75 773.00 457.74 772.63 459.73 772.25 C461.72 771.86 463.71 771.45 465.69 771.02 C467.67 770.60 469.65 770.15 471.62 769.68 C473.60 769.22 475.57 768.73 477.54 768.24 C479.51 767.74 481.48 767.23 483.44 766.71 C485.41 766.19 487.37 765.66 489.33 765.12 C491.30 764.58 493.26 764.03 495.22 763.47 C497.18 762.92 499.13 762.36 501.09 761.79 C503.05 761.23 505.00 760.66 506.96 760.09 C508.91 759.52 510.87 758.94 512.82 758.36 C514.77 757.78 516.72 757.19 518.67 756.60 C520.62 756.00 522.57 755.40 524.51 754.80 C526.45 754.19 528.40 753.58 530.33 752.96 C532.27 752.34 534.21 751.72 536.14 751.09 C538.08 750.45 540.01 749.81 541.93 749.16 C543.86 748.51 545.78 747.85 547.70 747.18 C549.62 746.50 551.53 745.82 553.43 745.12 C555.33 744.41 557.23 743.69 559.11 742.95 C561.00 742.21 562.87 741.45 564.73 740.66 C566.59 739.87 568.44 739.06 570.28 738.21 C572.11 737.37 573.92 736.50 575.72 735.59 C577.52 734.68 579.30 733.74 581.05 732.76 C582.80 731.78 584.54 730.76 586.24 729.70 C587.95 728.64 589.63 727.53 591.28 726.38 C592.94 725.23 594.56 724.03 596.15 722.77 C597.74 721.52 599.31 720.22 600.83 718.85 C602.35 717.49 603.85 716.08 605.30 714.60 C606.75 713.12 608.83 710.74 609.54 709.97" fill="none" stroke="#626262" stroke-width="1.7" />
<path d="M41.40 775.60 C42.39 775.85 45.37 776.60 47.36 777.06 C49.34 777.53 51.33 777.97 53.33 778.39 C55.32 778.80 57.32 779.20 59.31 779.57 C61.31 779.95 63.31 780.30 65.32 780.64 C67.32 780.98 69.32 781.29 71.33 781.59 C73.34 781.89 75.34 782.17 77.35 782.44 C79.36 782.70 81.38 782.95 83.39 783.18 C85.40 783.41 87.42 783.63 89.44 783.84 C91.45 784.04 93.47 784.23 95.49 784.41 C97.51 784.59 99.54 784.75 101.56 784.91 C103.58 785.06 105.61 785.21 107.63 785.34 C109.66 785.48 111.68 785.60 113.71 785.72 C115.74 785.83 117.77 785.94 119.80 786.04 C121.83 786.14 123.86 786.24 125.89 786.33 C127.92 786.42 129.95 786.50 131.99 786.58 C134.02 786.66 136.05 786.74 138.09 786.81 C140.12 786.88 142.15 786.95 144.19 787.02 C146.22 787.09 148.26 787.16 150.29 787.22 C152.33 787.29 154.36 787.36 156.40 787.43 C158.43 787.50 160.47 787.56 162.51 787.64 C164.54 787.71 166.58 787.79 168.61 787.87 C170.65 787.95 172.68 788.03 174.72 788.12 C176.75 788.21 178.78 788.30 180.82 788.40 C182.85 788.51 184.88 788.61 186.92 788.73 C188.95 788.84 190.98 788.96 193.01 789.09 C195.05 789.22 197.08 789.35 199.11 789.48 C201.14 789.62 203.17 789.76 205.20 789.91 C207.23 790.05 209.26 790.20 211.29 790.36 C213.32 790.51 215.35 790.67 217.38 790.83 C219.41 791.00 221.43 791.16 223.46 791.33 C225.49 791.50 227.52 791.67 229.55 791.84 C231.57 792.02 233.60 792.19 235.63 792.37 C237.66 792.55 239.68 792.73 241.71 792.91 C243.74 793.09 245.76 793.27 247.79 793.45 C249.82 793.64 251.84 793.82 253.87 794.00 C255.90 794.19 257.92 794.37 259.95 794.56 C261.97 794.74 264.00 794.93 266.02 795.11 C268.05 795.29 270.08 795.47 272.10 795.65 C274.13 795.84 276.15 796.02 278.18 796.19 C280.20 796.37 282.23 796.55 284.25 796.72 C286.28 796.89 288.30 797.07 290.33 797.23 C292.36 797.40 294.38 797.57 296.41 797.73 C298.43 797.89 300.46 798.05 302.48 798.20 C304.51 798.36 306.53 798.51 308.56 798.65 C310.58 798.80 312.61 798.94 314.64 799.08 C316.66 799.22 318.69 799.35 320.71 799.47 C322.74 799.60 324.77 799.72 326.79 799.83 C328.82 799.95 330.85 800.06 332.87 800.16 C334.90 800.26 336.93 800.35 338.96 800.44 C340.98 800.53 343.01 800.61 345.04 800.68 C347.07 800.76 349.09 800.82 351.12 800.88 C353.15 800.94 355.18 800.99 357.21 801.03 C359.24 801.07 361.27 801.10 363.30 801.12 C365.33 801.14 367.36 801.16 369.39 801.16 C371.42 801.16 373.45 801.15 375.48 801.14 C377.51 801.12 379.54 801.09 381.57 801.06 C383.61 801.02 385.64 800.97 387.67 800.91 C389.70 800.85 391.74 800.78 393.77 800.70 C395.80 800.62 397.84 800.52 399.87 800.42 C401.90 800.32 403.93 800.20 405.96 800.08 C408.00 799.95 410.03 799.82 412.06 799.67 C414.09 799.52 416.12 799.36 418.15 799.19 C420.18 799.02 422.21 798.84 424.23 798.64 C426.26 798.45 428.29 798.24 430.31 798.03 C432.34 797.81 434.36 797.58 436.38 797.34 C438.41 797.10 440.43 796.85 442.45 796.58 C444.47 796.32 446.49 796.04 448.50 795.76 C450.52 795.47 452.53 795.17 454.54 794.86 C456.56 794.54 458.57 794.22 460.58 793.88 C462.58 793.55 464.59 793.20 466.59 792.84 C468.60 792.48 470.60 792.10 472.60 791.72 C474.59 791.33 476.59 790.93 478.58 790.52 C480.58 790.11 482.57 789.69 484.55 789.25 C486.54 788.82 488.53 788.37 490.51 787.91 C492.49 787.45 494.47 786.97 496.44 786.49 C498.41 786.00 500.39 785.50 502.35 784.99 C504.32 784.47 506.28 783.95 508.24 783.41 C510.21 782.87 512.16 782.32 514.11 781.75 C516.07 781.19 518.01 780.61 519.96 780.02 C521.90 779.43 523.84 778.82 525.78 778.20 C527.71 777.58 529.65 776.95 531.57 776.30 C533.50 775.66 535.42 775.00 537.34 774.33 C539.25 773.65 541.17 772.97 543.08 772.27 C544.98 771.57 546.89 770.85 548.78 770.12 C550.68 769.39 552.57 768.65 554.46 767.90 C556.35 767.14 558.23 766.37 560.10 765.58 C561.98 764.80 563.85 764.00 565.71 763.19 C567.57 762.37 569.43 761.54 571.27 760.68 C573.11 759.83 574.95 758.96 576.77 758.06 C578.59 757.17 580.40 756.25 582.19 755.31 C583.98 754.36 585.76 753.39 587.52 752.39 C589.28 751.39 591.03 750.37 592.75 749.31 C594.47 748.25 596.18 747.16 597.86 746.04 C599.54 744.91 601.20 743.75 602.83 742.56 C604.47 741.36 606.08 740.13 607.66 738.86 C609.24 737.58 611.55 735.57 612.33 734.91" fill="none" stroke="#626262" stroke-width="1.7" />
<path d="M40.99 794.96 C41.92 795.39 44.70 796.72 46.58 797.53 C48.46 798.33 50.35 799.07 52.25 799.77 C54.15 800.47 56.07 801.11 58.00 801.71 C59.92 802.32 61.86 802.87 63.81 803.39 C65.76 803.91 67.71 804.38 69.68 804.82 C71.64 805.26 73.61 805.67 75.59 806.04 C77.56 806.41 79.55 806.75 81.54 807.06 C83.53 807.37 85.53 807.65 87.53 807.90 C89.53 808.16 91.53 808.39 93.55 808.59 C95.56 808.80 97.57 808.98 99.59 809.15 C101.61 809.31 103.64 809.46 105.66 809.59 C107.69 809.72 109.72 809.83 111.75 809.93 C113.78 810.04 115.82 810.12 117.85 810.21 C119.89 810.29 121.93 810.36 123.97 810.42 C126.01 810.49 128.05 810.55 130.09 810.61 C132.13 810.67 134.17 810.72 136.21 810.78 C138.25 810.84 140.29 810.90 142.33 810.96 C144.37 811.03 146.41 811.09 148.44 811.16 C150.48 811.23 152.52 811.30 154.55 811.38 C156.59 811.45 158.63 811.53 160.66 811.61 C162.69 811.69 164.73 811.78 166.76 811.86 C168.79 811.95 170.83 812.04 172.86 812.13 C174.89 812.22 176.92 812.31 178.95 812.41 C180.98 812.50 183.01 812.60 185.04 812.70 C187.07 812.79 189.10 812.90 191.13 813.00 C193.16 813.10 195.19 813.21 197.22 813.31 C199.24 813.42 201.27 813.52 203.30 813.63 C205.32 813.74 207.35 813.85 209.38 813.96 C211.40 814.07 213.43 814.19 215.45 814.30 C217.48 814.41 219.51 814.53 221.53 814.64 C223.56 814.75 225.58 814.87 227.60 814.99 C229.63 815.10 231.65 815.22 233.68 815.34 C235.70 815.45 237.72 815.57 239.75 815.69 C241.77 815.80 243.80 815.92 245.82 816.04 C247.84 816.16 249.87 816.28 251.89 816.39 C253.91 816.51 255.94 816.63 257.96 816.74 C259.98 816.86 262.00 816.98 264.03 817.09 C266.05 817.21 268.07 817.32 270.10 817.44 C272.12 817.55 274.14 817.67 276.17 817.78 C278.19 817.89 280.21 818.00 282.24 818.11 C284.26 818.22 286.29 818.33 288.31 818.44 C290.33 818.55 292.36 818.65 294.38 818.76 C296.41 818.86 298.43 818.97 300.46 819.07 C302.48 819.17 304.51 819.27 306.53 819.37 C308.56 819.46 310.58 819.56 312.61 819.65 C314.64 819.75 316.66 819.84 318.69 819.93 C320.72 820.02 322.74 820.10 324.77 820.19 C326.80 820.27 328.83 820.35 330.86 820.43 C332.89 820.51 334.92 820.59 336.95 820.66 C338.97 820.74 341.01 820.81 343.04 820.87 C345.07 820.94 347.10 821.01 349.13 821.06 C351.16 821.12 353.19 821.18 355.23 821.23 C357.26 821.28 359.29 821.33 361.32 821.37 C363.36 821.41 365.39 821.44 367.42 821.47 C369.45 821.50 371.49 821.52 373.52 821.54 C375.55 821.55 377.58 821.56 379.61 821.56 C381.65 821.56 383.68 821.55 385.71 821.53 C387.74 821.52 389.77 821.49 391.80 821.46 C393.83 821.42 395.86 821.38 397.89 821.33 C399.92 821.27 401.94 821.21 403.97 821.14 C406.00 821.06 408.02 820.98 410.05 820.88 C412.07 820.78 414.10 820.67 416.12 820.55 C418.14 820.43 420.17 820.30 422.19 820.15 C424.21 820.01 426.23 819.85 428.24 819.68 C430.26 819.50 432.28 819.32 434.29 819.12 C436.31 818.92 438.32 818.70 440.33 818.47 C442.34 818.24 444.35 817.99 446.36 817.73 C448.37 817.47 450.38 817.19 452.38 816.90 C454.39 816.60 456.39 816.29 458.39 815.96 C460.39 815.63 462.39 815.29 464.38 814.92 C466.38 814.56 468.37 814.18 470.36 813.78 C472.35 813.38 474.34 812.97 476.33 812.54 C478.31 812.11 480.30 811.66 482.28 811.19 C484.26 810.73 486.24 810.25 488.21 809.76 C490.18 809.26 492.15 808.75 494.12 808.23 C496.09 807.70 498.05 807.16 500.01 806.61 C501.97 806.05 503.93 805.48 505.88 804.90 C507.83 804.32 509.78 803.72 511.72 803.11 C513.67 802.50 515.61 801.88 517.54 801.24 C519.48 800.61 521.41 799.96 523.33 799.29 C525.26 798.63 527.18 797.96 529.10 797.27 C531.01 796.58 532.93 795.88 534.83 795.17 C536.74 794.46 538.64 793.74 540.54 793.01 C542.43 792.28 544.32 791.53 546.21 790.77 C548.09 790.01 549.97 789.24 551.83 788.45 C553.70 787.67 555.56 786.86 557.41 786.04 C559.26 785.21 561.10 784.37 562.92 783.51 C564.75 782.64 566.56 781.76 568.36 780.85 C570.16 779.94 571.95 779.01 573.72 778.05 C575.50 777.08 577.25 776.10 578.99 775.08 C580.73 774.07 582.46 773.02 584.16 771.94 C585.87 770.87 587.56 769.76 589.22 768.61 C590.89 767.47 592.54 766.29 594.16 765.08 C595.79 763.86 597.39 762.61 598.97 761.32 C600.55 760.03 602.11 758.70 603.64 757.33 C605.17 755.95 607.41 753.79 608.16 753.08" fill="none" stroke="#626262" stroke-width="1.7" />
<line x1="117.5" y1="680.0" x2="117.5" y2="726.5" stroke="#222" stroke-width="1.5" stroke-dasharray="2 2.2" stroke-linecap="butt"/>
<circle cx="117.5" cy="733.5" r="3.2" fill="#1a1a1a"/>
<line x1="444.3" y1="642.5" x2="444.3" y2="710.0" stroke="#222" stroke-width="1.5" stroke-dasharray="2 2.2" stroke-linecap="butt"/>
<circle cx="444.2" cy="727.0" r="3.2" fill="#1a1a1a"/>
<g style="filter:grayscale(1)">
<text x="11.3" y="179.6" textLength="187.9" lengthAdjust="spacingAndGlyphs" font-size="17.1" fill="#231f20" stroke="#231f20" stroke-width="0.25">PADDED ANKLE SUPPORT</text>
<text x="321.3" y="151.6" textLength="247.2" lengthAdjust="spacingAndGlyphs" font-size="17.1" fill="#231f20" stroke="#231f20" stroke-width="0.25">ADJUSTABLE FITTING WITH LACES</text>
<text x="473.5" y="226.9" textLength="162.0" lengthAdjust="spacingAndGlyphs" font-size="17.1" fill="#231f20" stroke="#231f20" stroke-width="0.25">BREATHABLE LEATHER</text>
<text x="43.5" y="427.9" textLength="193.0" lengthAdjust="spacingAndGlyphs" font-size="17.1" fill="#231f20" stroke="#231f20" stroke-width="0.25">HEEL AND ARCH SUPPORT</text>
<text x="361.5" y="442.6" textLength="242.0" lengthAdjust="spacingAndGlyphs" font-size="17.1" fill="#231f20" stroke="#231f20" stroke-width="0.25">REMOVABLE SUPPORTIVE INSOLE</text>
<text x="373.8" y="635.7" textLength="145.5" lengthAdjust="spacingAndGlyphs" font-size="17.1" fill="#231f20" stroke="#231f20" stroke-width="0.25">SOFT AND FLEXIBLE</text>
<text x="23.5" y="673.2" textLength="182.2" lengthAdjust="spacingAndGlyphs" font-size="17.1" fill="#231f20" stroke="#231f20" stroke-width="0.25">SHOCK ABSORBING SOLE</text>
</g>
</svg>
</body></html>
